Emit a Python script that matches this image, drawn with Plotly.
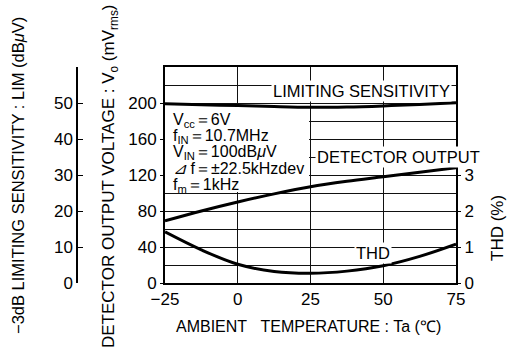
import plotly.graph_objects as go

# ---- data ----
temps = [-25, -12.5, 0, 12.5, 25, 37.5, 50, 62.5, 75]          # Ta (°C)
lim_dbuv = [49.8, 49.5, 49.3, 49.0, 48.8, 48.9, 49.2, 49.6, 50.1]  # -3dB limiting sensitivity (dBμV)
det_mv = [69, 80, 90, 99, 107, 113, 118, 123, 128]              # detector output voltage (mVrms)
thd_pct = [1.42, 0.92, 0.52, 0.32, 0.27, 0.33, 0.48, 0.74, 1.08]  # THD (%)

x_ticks = [-25, 0, 25, 50, 75]
x_ticktext = ["\u221225", "0", "25", "50", "75"]
mv_ticks = [0, 40, 80, 120, 160, 200]
lim_ticks = [0, 10, 20, 30, 40, 50]
thd_ticks = [0, 1, 2, 3]

cond_lines = [
    "V<sub>cc</sub>\uff1d6V",
    "f<sub>IN</sub>\uff1d10.7MHz",
    "V<sub>IN</sub>\uff1d100dB<i>μ</i>V",
    "<i>⊿</i> f\uff1d\u00b122.5kHzdev",
    "f<sub>m</sub>\uff1d1kHz",
]

FONT = "Liberation Sans, Arial, Helvetica, sans-serif"
W, H = 518, 350
L, R, T, B = 165, 456, 67, 283
TICK = 17

fig = go.Figure()
line = dict(color="black", width=3, shape="spline")
fig.add_trace(go.Scatter(x=temps, y=lim_dbuv, mode="lines", line=line, yaxis="y3"))
fig.add_trace(go.Scatter(x=temps, y=det_mv, mode="lines", line=line, yaxis="y"))
fig.add_trace(go.Scatter(x=temps, y=thd_pct, mode="lines", line=line, yaxis="y2"))

grid = "#111111"
fig.update_layout(
    template="none",
    width=W, height=H,
    margin=dict(l=0, r=0, t=0, b=0, pad=0),
    paper_bgcolor="white", plot_bgcolor="white",
    showlegend=False, hovermode=False,
    font=dict(family=FONT, size=16, color="black"),
    xaxis=dict(
        domain=[L / W, R / W], range=[-25, 75],
        tickvals=x_ticks, ticktext=x_ticktext,
        showgrid=True, gridcolor=grid, gridwidth=1,
        showline=True, linecolor="black", linewidth=2, mirror=True,
        zeroline=False, ticks="", tickfont=dict(size=TICK),
    ),
    yaxis=dict(
        domain=[(H - B) / H, (H - T) / H], range=[0, 240],
        tickvals=mv_ticks,
        showgrid=False,
        minor=dict(tick0=0, dtick=20, showgrid=True, gridcolor=grid, gridwidth=1, ticks=""),
        showline=True, linecolor="black", linewidth=2, mirror=True,
        zeroline=False, ticks="outside", ticklen=3, tickcolor="black",
        tickfont=dict(size=TICK),
    ),
    yaxis2=dict(
        overlaying="y", side="right", range=[0, 6],
        tickvals=thd_ticks, showgrid=False, zeroline=False, showline=False,
        ticks="outside", ticklen=4, tickcolor="black", tickfont=dict(size=TICK),
    ),
    yaxis3=dict(
        overlaying="y", anchor="free", position=77 / W, side="left", range=[0, 60],
        tickvals=lim_ticks, showgrid=False, zeroline=False,
        showline=True, linecolor="black", linewidth=1.5,
        ticks="inside", ticklen=5, tickcolor="black", tickfont=dict(size=TICK),
    ),
)

# white box behind the conditions text (hides grid)
fig.add_shape(type="rect", xref="x", yref="y", x0=-25, x1=24.5, y0=101, y1=197,
              fillcolor="white", line=dict(width=0), layer="between")

def px2x(px):
    return -25 + (px - L) / (R - L) * 100

def py2y(py):
    return (B - py) / (B - T) * 240

ys = [121, 136.5, 152, 168, 185]
for txt, yy in zip(cond_lines, ys):
    fig.add_annotation(x=px2x(171), y=py2y(yy), xref="x", yref="y", text=txt,
                       showarrow=False, xanchor="left", yanchor="middle",
                       font=dict(size=16, family=FONT))

for txt, cx, cy in [("LIMITING SENSITIVITY", 361, 91),
                    ("DETECTOR OUTPUT", 398, 157),
                    ("THD", 373, 253)]:
    fig.add_annotation(x=px2x(cx), y=py2y(cy), xref="x", yref="y", text=txt,
                       showarrow=False, xanchor="center", yanchor="middle",
                       bgcolor="white", borderpad=1, font=dict(size=16.5, family=FONT))

# axis titles
for txt, px, py, ang, sz in [
    ("\u22123dB LIMITING SENSITIVITY : LIM (dB<i>μ</i>V)", 18, 176, -90, 16.5),
    ("DETECTOR OUTPUT VOLTAGE : V<sub>o</sub> (mV<sub>rms</sub>)", 110, 176, -90, 17),
    ("THD (%)", 497, 228, -90, 17),
    ("AMBIENT\u00a0\u00a0\u00a0TEMPERATURE : Ta (\u2103)", 308, 326, 0, 16),
]:
    fig.add_annotation(x=px / W, y=1 - py / H, xref="paper", yref="paper",
                       text=txt, textangle=ang, showarrow=False,
                       xanchor="center", yanchor="middle",
                       font=dict(size=sz, family=FONT))

fig.write_html("out.html", config={"displayModeBar": False},
               post_script="document.body.style.margin='0px';")
